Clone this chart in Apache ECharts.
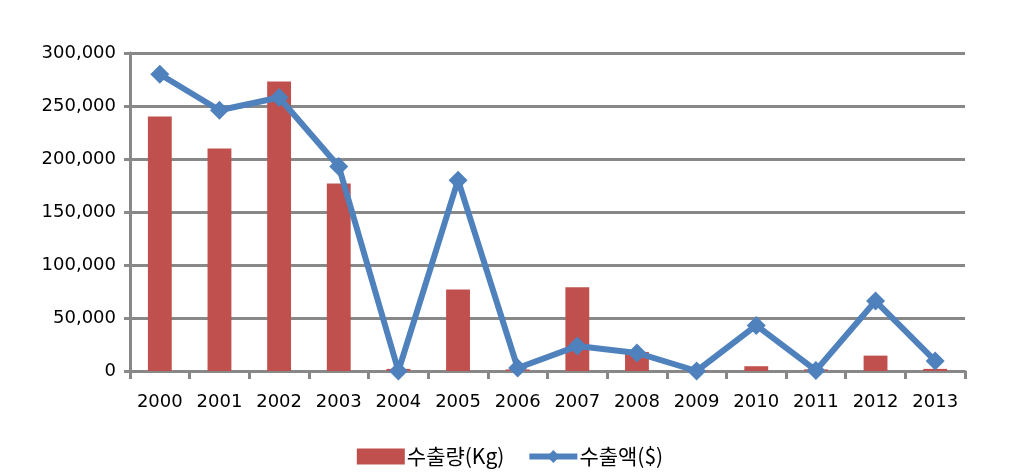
<!DOCTYPE html>
<html><head><meta charset="utf-8">
<script src="https://cdn.jsdelivr.net/npm/echarts@6/dist/echarts.min.js"></script>
<style>html,body{margin:0;padding:0;background:#fff}#c{width:1020px;height:476px}</style>
</head><body><div id="c"></div>
<script>
const years = ['2000','2001','2002','2003','2004','2005','2006','2007','2008','2009','2010','2011','2012','2013'];
const volumeKg = [240000,210000,273000,177000,2000,77000,1500,79000,18000,500,4500,1500,14500,2000];
const valueUsd = [280000,246000,258000,193000,0,180000,2800,23500,17000,0,43000,500,66000,9500];
const yTicks = [0,50000,100000,150000,200000,250000,300000];

const chart = echarts.init(document.getElementById('c'), null, {renderer:'canvas'});
const font = 'DejaVu Sans';
chart.setOption({
  animation:false,
  grid:{left:130,right:55,top:53,bottom:105,containLabel:false},
  legend:{
    bottom:4,left:'center',itemGap:22,itemWidth:48,itemHeight:16,
    textStyle:{fontFamily:'Noto Sans CJK KR',fontSize:21,color:'#000',padding:[0,0,0,-3]},
    data:[
      {name:'수출량(Kg)',icon:'rect'},
      {name:'수출액($)',lineStyle:{width:6,color:'#4F81BD'},itemStyle:{color:'#4F81BD'}}
    ]
  },
  xAxis:{
    type:'category',data:years,boundaryGap:true,
    axisLine:{lineStyle:{color:'#888',width:3}},
    axisTick:{show:true,alignWithLabel:false,length:8,lineStyle:{color:'#888',width:3}},
    axisLabel:{fontFamily:font,fontSize:18,color:'#000',margin:22}
  },
  yAxis:{
    type:'value',min:0,max:300000,interval:50000,
    axisLine:{show:true,lineStyle:{color:'#888',width:3}},
    axisTick:{show:true,length:6,lineStyle:{color:'#888',width:3}},
    splitLine:{lineStyle:{color:'#888',width:3}},
    axisLabel:{fontFamily:font,fontSize:18,color:'#000',margin:14,
      formatter:v=>v.toLocaleString('en-US')}
  },
  series:[
    {name:'수출량(Kg)',type:'bar',data:volumeKg,barWidth:'40%',
     itemStyle:{color:'#C0504D'}},
    {name:'수출액($)',type:'line',data:valueUsd,symbol:'diamond',symbolSize:19,
     lineStyle:{color:'#4F81BD',width:6,join:'round'},itemStyle:{color:'#4F81BD'}}
  ]
});
</script></body></html>
